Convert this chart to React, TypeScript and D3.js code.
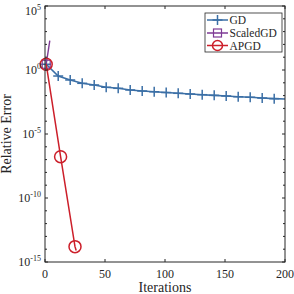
import React from "react";
import * as d3 from "d3";

const gdIters = [1, 11, 21, 31, 41, 51, 61, 71, 81, 91, 101, 111, 121, 131, 141, 151, 161, 171, 181, 191, 200];
const gdLog = [0.45, -0.47, -0.78, -1.04, -1.17, -1.35, -1.43, -1.56, -1.64, -1.7, -1.76, -1.82, -1.875, -1.93, -1.98, -2.03, -2.09, -2.13, -2.19, -2.24, -2.27];
const gdMarkerCount = 20;

const sgdIters = [1, 4];
const sgdLog = [0.45, 2.29];

const apgdIters = [1, 13, 25, 26];
const apgdLog = [0.45, -6.77, -13.8, -14.1];
const apgdMarkerCount = 3;

const xTicks = [0, 50, 100, 150, 200];
const yMajor = [5, 0, -5, -10, -15];
const yMinor = d3.range(-15, 6);

const seriesNames = ["GD", "ScaledGD", "APGD"];
const colors = ["#3b6fa6", "#7e3a94", "#cc1f2a"];

const W = 294, H = 294;
const L = 45, R = 285, T = 6, B = 262;
const FONT = "Liberation Serif";

export default function App() {
  const x = d3.scaleLinear().domain([0, 200]).range([L, R]);
  const y = d3.scaleLog().domain([1e-15, 1e5]).range([B, T]);
  const line = d3.line<[number, number]>().x(d => x(d[0])).y(d => y(d[1]));
  const gd: [number, number][] = gdIters.map((it, i) => [it, Math.pow(10, gdLog[i])]);
  const sgd: [number, number][] = sgdIters.map((it, i) => [it, Math.pow(10, sgdLog[i])]);
  const ap: [number, number][] = apgdIters.map((it, i) => [it, Math.pow(10, apgdLog[i])]);

  const plus = (cx: number, cy: number, c: string, k: string | number, s = 5) => (
    <g key={k} stroke={c} strokeWidth={1.5}>
      <line x1={cx - s} x2={cx + s} y1={cy} y2={cy} />
      <line x1={cx} x2={cx} y1={cy - s} y2={cy + s} />
    </g>
  );

  const lx1 = 207, lx2 = 228, lmx = 217.5;
  const ly = [20, 33, 45.5];
  const ts = { fontFamily: FONT };

  return (
    <svg width={W} height={H} style={{ position: "absolute", left: 0, top: 0, background: "#fff" }}>
      <rect x={0} y={0} width={W} height={H} fill="#fff" />
      {/* series */}
      <path d={line(gd) || ""} fill="none" stroke={colors[0]} strokeWidth={1.6} />
      {gd.slice(0, gdMarkerCount).map((d, i) => plus(x(d[0]), y(d[1]), colors[0], "gp" + i))}
      <path d={line(sgd) || ""} fill="none" stroke={colors[1]} strokeWidth={1.4} />
      <rect x={x(sgd[0][0]) - 4} y={y(sgd[0][1]) - 4} width={8} height={8} fill="none" stroke={colors[1]} strokeWidth={1.2} />
      <path d={line(ap) || ""} fill="none" stroke={colors[2]} strokeWidth={1.5} />
      {ap.slice(0, apgdMarkerCount).map((d, i) => (
        <circle key={"ac" + i} cx={x(d[0])} cy={y(d[1])} r={6} fill="none" stroke={colors[2]} strokeWidth={1.5} />
      ))}
      {/* axes box */}
      <rect x={L} y={T} width={R - L} height={B - T} fill="none" stroke="#262626" strokeWidth={1} />
      {xTicks.map(t => (
        <g key={"xt" + t} stroke="#262626" strokeWidth={1}>
          <line x1={x(t)} x2={x(t)} y1={B} y2={B - 3} />
          <line x1={x(t)} x2={x(t)} y1={T} y2={T + 3} />
        </g>
      ))}
      {yMinor.map(e => (
        <g key={"ym" + e} stroke="#262626" strokeWidth={1}>
          <line x1={L} x2={L + (e % 5 === 0 ? 3 : 2)} y1={y(Math.pow(10, e))} y2={y(Math.pow(10, e))} />
          <line x1={R} x2={R - (e % 5 === 0 ? 3 : 2)} y1={y(Math.pow(10, e))} y2={y(Math.pow(10, e))} />
        </g>
      ))}
      {xTicks.map(t => (
        <text key={"xl" + t} style={ts} x={x(t)} y={278} fontSize={12} textAnchor="middle" fill="#262626">{t}</text>
      ))}
      {yMajor.map(e => (
        <text key={"yl" + e} style={ts} x={41} y={Math.max(y(Math.pow(10, e)), 11) + 4} fontSize={12} textAnchor="end" fill="#262626">
          10<tspan fontSize={8} dy={-5}>{e}</tspan>
        </text>
      ))}
      <text style={ts} x={165} y={292} fontSize={14} textAnchor="middle" fill="#262626">Iterations</text>
      <text style={ts} transform={`translate(11,${(T + B) / 2}) rotate(-90)`} fontSize={14} textAnchor="middle" fill="#262626">Relative Error</text>
      {/* legend */}
      <rect x={205} y={13} width={77} height={39} fill="#fff" stroke="#262626" strokeWidth={0.8} />
      {seriesNames.map((n, i) => (
        <g key={"lg" + i}>
          <line x1={lx1} x2={lx2} y1={ly[i]} y2={ly[i]} stroke={colors[i]} strokeWidth={1.5} />
          {i === 0 && plus(lmx, ly[i], colors[0], "lp", 5)}
          {i === 1 && <rect x={lmx - 4} y={ly[i] - 4} width={8} height={8} fill="none" stroke={colors[1]} strokeWidth={1.2} />}
          {i === 2 && <circle cx={lmx} cy={ly[i]} r={5} fill="none" stroke={colors[2]} strokeWidth={1.5} />}
          <text style={ts} x={229.5} y={ly[i] + 4} fontSize={11.5} fill="#262626">{n}</text>
        </g>
      ))}
    </svg>
  );
}
